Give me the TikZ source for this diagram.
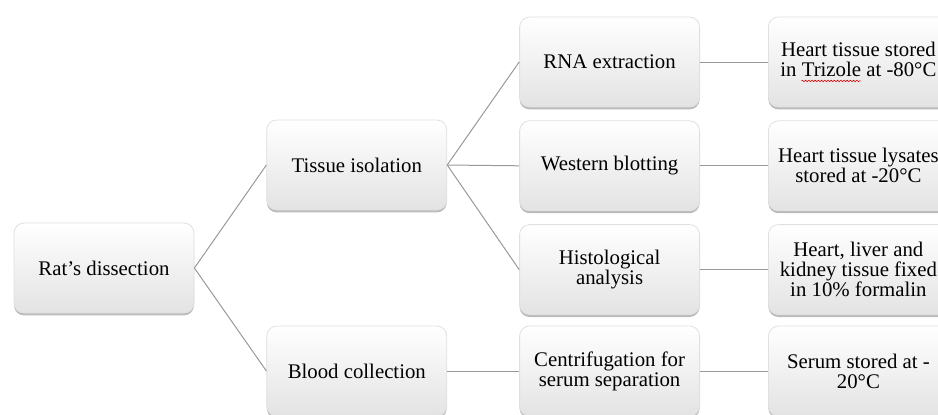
\documentclass[tikz,border=0pt]{standalone}
\usepackage{fontspec}
\setmainfont{Liberation Serif}
\usetikzlibrary{positioning, shadows, decorations.pathmorphing}
\newsavebox{\spellbox}
\newlength{\spellwd}
\newcommand{\spellmark}[1]{%
    \sbox{\spellbox}{#1}\setlength{\spellwd}{\wd\spellbox}%
    \usebox{\spellbox}%
    \llap{\tikz[baseline=0pt]\draw[red!85!black, line width=0.3pt, sharp corners,
        decorate, decoration={snake, amplitude=0.35pt, segment length=1.6pt}]
        (0pt,-2.2pt) -- (\spellwd,-2.2pt);}}

\begin{document}
\begin{tikzpicture}[
    font=\fontsize{10.4}{10}\selectfont,
    box/.style={draw=black!12, line width=0.4pt, rounded corners=5pt,
                minimum width=90pt, minimum height=45pt,
                inner sep=2pt, align=center,
                top color=white, bottom color=black!11,
                drop shadow={shadow xshift=0pt, shadow yshift=-1.2pt,
                             opacity=0.45, fill=black!60}},
    link/.style={draw=black!40, line width=0.5pt},
]

% fixed frame (pixel proportions of the original figure)
\useasboundingbox (0,0) rectangle (469pt,-207pt);

% ---------------- Level 0: dissection -----------------------------------
\node[box] (dissect) at (52pt,-134pt) {Rat’s dissection};

% ---------------- Level 1: sample types ---------------------------------
\node[box, right=36pt of dissect, yshift=51.5pt]  (tissue) {Tissue isolation};
\node[box, right=36pt of dissect, yshift=-51.5pt] (blood)  {Blood collection};

% ---------------- Level 2: analyses -------------------------------------
\node[box, right=36pt of tissue, yshift=51.5pt] (rna)     {RNA extraction};
\node[box, below=6.5pt of rna]                  (western) {Western blotting};
\node[box, below=6.5pt of western]              (histo)   {Histological\\analysis};
\node[box, right=36pt of blood]                 (centri)  {Centrifugation for\\serum separation};

% ---------------- Level 3: storage (cut by the right edge) --------------
\node[box, right=34pt of rna]     (rnastore)
    {Heart tissue stored\\in \spellmark{Trizole} at -80°C};
\node[box, right=34pt of western] (wbstore)
    {Heart tissue lysates\\stored at -20°C};
\node[box, right=34pt of histo]   (histostore)
    {Heart, liver and\\kidney tissue fixed\\in 10\% formalin};
\node[box, right=34pt of centri]  (serumstore)
    {Serum stored at -\\20°C};

% ---------------- Connectors --------------------------------------------
\draw[link] (dissect.east) -- (tissue.west);
\draw[link] (dissect.east) -- (blood.west);
\foreach \n in {rna, western, histo} {%
    \draw[link] (tissue.east) -- (\n.west);
}
\draw[link] (blood.east) -- (centri.west);
\draw[link] (rna.east)     -- (rnastore.west);
\draw[link] (western.east) -- (wbstore.west);
\draw[link] (histo.east)   -- (histostore.west);
\draw[link] (centri.east)  -- (serumstore.west);

\end{tikzpicture}
\end{document}
